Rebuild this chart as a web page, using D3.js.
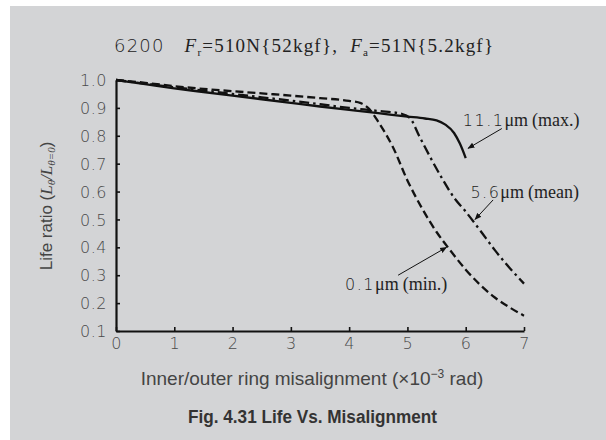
<!DOCTYPE html>
<html><head><meta charset="utf-8">
<script src="https://cdn.jsdelivr.net/npm/d3@7/dist/d3.min.js"></script>
<style>
html,body{margin:0;padding:0;background:#fff;}
svg{display:block;}
</style></head>
<body>
<svg id="chart" width="606" height="440"></svg>
<script>
// ---- data ----
const xTicks = [0,1,2,3,4,5,6,7];
const yTicks = [0.1,0.2,0.3,0.4,0.5,0.6,0.7,0.8,0.9,1.0];

const maxSeries = [[0,1.0],[0.5,0.985],[1,0.97],[1.5,0.957],[2,0.944],[2.5,0.931],[3,0.918],[3.5,0.905],[4,0.893],[4.5,0.881],[5,0.869],[5.3,0.862],[5.5,0.855],[5.65,0.84],[5.8,0.81],[5.9,0.772],[6.0,0.72]];
const meanSeries = [[0,1.0],[0.5,0.987],[1,0.974],[1.5,0.962],[2,0.95],[2.5,0.938],[3,0.926],[3.5,0.913],[4,0.9],[4.5,0.889],[4.9,0.879],[5.05,0.862],[5.2,0.8],[5.4,0.72],[5.6,0.645],[5.8,0.578],[6,0.528],[6.25,0.46],[6.5,0.39],[6.75,0.327],[7,0.27]];
const minSeries = [[0,1.0],[0.5,0.99],[1,0.978],[1.5,0.968],[2,0.96],[2.5,0.952],[3,0.944],[3.5,0.935],[4,0.925],[4.2,0.917],[4.35,0.895],[4.5,0.85],[4.75,0.76],[5,0.64],[5.25,0.54],[5.5,0.455],[5.75,0.385],[6,0.32],[6.25,0.265],[6.5,0.22],[6.75,0.185],[7,0.155]];

const seriesNames = ["11.1", "5.6", "0.1"];
const seriesTags = ["(max.)", "(mean)", "(min.)"];
// label anchor (data coords) and arrow tail/tip (data coords)
const labelPos = [[5.95,0.857],[6.08,0.60],[3.93,0.27]];
const arrowTail = [[6.62,0.826],[6.47,0.57],[4.84,0.30]];
const arrowTip  = [[6.04,0.755],[6.16,0.50],[5.67,0.40]];

const svg = d3.select("#chart");
svg.append("rect").attr("x",10).attr("y",6).attr("width",596).attr("height",434).attr("fill","#d3d4d6");

const x = d3.scaleLinear().domain([0,7]).range([116,524]);
const y = d3.scaleLinear().domain([0.1,1.0]).range([331,80]);

// defs arrow
svg.append("defs").append("marker").attr("id","ah").attr("viewBox","0 0 10 10")
  .attr("refX",9).attr("refY",5).attr("markerWidth",7).attr("markerHeight",7)
  .attr("markerUnits","userSpaceOnUse").attr("orient","auto")
  .append("path").attr("d","M0,1 L10,5 L0,9 Z").attr("fill","#111");

// axes
const yAxis = d3.axisLeft(y).tickValues(yTicks).tickFormat(d3.format(".1f")).tickSizeInner(-4).tickSizeOuter(0).tickPadding(9);
const xAxis = d3.axisBottom(x).tickValues(xTicks).tickFormat(d3.format("d")).tickSizeInner(-4).tickSizeOuter(0).tickPadding(7);

const gy = svg.append("g").attr("transform","translate(116,0)").call(yAxis);
const gx = svg.append("g").attr("transform","translate(0,331)").call(xAxis);
[gy,gx].forEach(g=>{
  g.select(".domain").attr("stroke","#111").attr("stroke-width",2.2);
  g.selectAll(".tick line").attr("stroke","#111").attr("stroke-width",1.6);
  g.selectAll(".tick text").attr("fill","#4a4a4a").attr("font-family","'DejaVu Sans', sans-serif")
    .attr("font-size",16).attr("font-weight",300).attr("letter-spacing","0.5px");
});
gy.selectAll(".tick text").attr("dy","0.35em");

// lines
const line = d3.line().x(d=>x(d[0])).y(d=>y(d[1])).curve(d3.curveMonotoneX);
const styles = [
  {data:maxSeries, dash:null},
  {data:meanSeries, dash:"10,4,2.5,4"},
  {data:minSeries, dash:"8,4"}
];
styles.forEach(s=>{
  svg.append("path").attr("d",line(s.data)).attr("fill","none").attr("stroke","#111")
    .attr("stroke-width",2.3).attr("stroke-dasharray",s.dash);
});

// annotations
seriesNames.forEach((n,i)=>{
  svg.append("line").attr("x1",x(arrowTail[i][0])).attr("y1",y(arrowTail[i][1]))
    .attr("x2",x(arrowTip[i][0])).attr("y2",y(arrowTip[i][1]))
    .attr("stroke","#111").attr("stroke-width",1).attr("marker-end","url(#ah)");
  const t = svg.append("text").attr("x",x(labelPos[i][0])).attr("y",y(labelPos[i][1])).attr("dy","0.35em")
    .attr("fill","#222").attr("font-size",18);
  t.append("tspan").attr("font-family","'DejaVu Sans', sans-serif").attr("font-weight",300).attr("font-size",16).attr("letter-spacing","1.5px").text(n);
  t.append("tspan").attr("font-family","'Liberation Serif', serif").text("\u03bcm");
  t.append("tspan").attr("font-family","'Liberation Serif', serif").attr("dx",4).text(seriesTags[i]);
});

// title
const title = svg.append("text").attr("x",114).attr("y",52).attr("fill","#222").attr("font-size",19).attr("letter-spacing","1.2px");
title.append("tspan").attr("font-family","'DejaVu Sans', sans-serif").attr("font-weight",300).attr("font-size",18).text("6200");
title.append("tspan").attr("dx",20).attr("font-family","'Liberation Serif', serif").attr("font-style","italic").text("F");
title.append("tspan").attr("font-family","'Liberation Serif', serif").attr("font-size",11).attr("dy",4).text("r");
title.append("tspan").attr("font-family","'Liberation Serif', serif").attr("dy",-4).text("=510N{52kgf},");
title.append("tspan").attr("dx",12).attr("font-family","'Liberation Serif', serif").attr("font-style","italic").text("F");
title.append("tspan").attr("font-family","'Liberation Serif', serif").attr("font-size",11).attr("dy",4).text("a");
title.append("tspan").attr("font-family","'Liberation Serif', serif").attr("dy",-4).text("=51N{5.2kgf}");

// y label
const yl = svg.append("text").attr("transform","translate(52,206) rotate(-90)").attr("text-anchor","middle")
  .attr("fill","#444").attr("font-size",17).attr("font-family","'Liberation Sans', Arial, sans-serif");
yl.append("tspan").text("Life ratio (");
yl.append("tspan").attr("font-family","'Liberation Serif', serif").attr("font-style","italic").text("L");
yl.append("tspan").attr("font-family","'Liberation Serif', serif").attr("font-style","italic").attr("font-size",11).attr("dy",3).text("\u03b8");
yl.append("tspan").attr("font-family","'Liberation Serif', serif").attr("font-style","italic").attr("dy",-3).text("/L");
yl.append("tspan").attr("font-family","'Liberation Serif', serif").attr("font-style","italic").attr("font-size",11).attr("dy",3).text("\u03b8=0");
yl.append("tspan").attr("dy",-3).text(")");

// x label
const xl = svg.append("text").attr("x",312).attr("y",385).attr("text-anchor","middle")
  .attr("fill","#444").attr("font-size",19).attr("font-family","'Liberation Sans', Arial, sans-serif");
xl.append("tspan").text("Inner/outer ring misalignment (\u00d710");
xl.append("tspan").attr("font-size",12).attr("dy",-7).text("\u22123");
xl.append("tspan").attr("dy",7).text(" rad)");

// caption
svg.append("text").attr("x",188).attr("y",423).attr("fill","#333")
  .attr("font-size",18).attr("font-weight","bold")
  .attr("textLength",249).attr("lengthAdjust","spacingAndGlyphs")
  .attr("font-family","'Liberation Sans Narrow', 'Arial Narrow', 'Liberation Sans', sans-serif")
  .text("Fig. 4.31  Life Vs. Misalignment");
</script>
</body></html>
